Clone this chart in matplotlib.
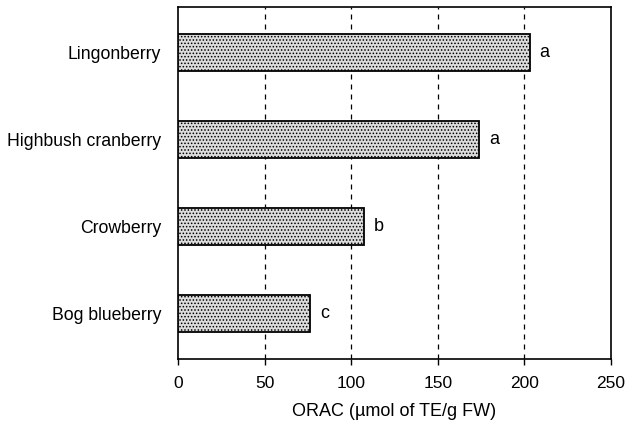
import matplotlib
matplotlib.use("Agg")
import matplotlib.pyplot as plt

categories = ["Lingonberry", "Highbush cranberry", "Crowberry", "Bog blueberry"]
orac = [203, 174, 107.5, 76.5]
letters = ["a", "a", "b", "c"]
xticks = [0, 50, 100, 150, 200, 250]

plt.rcParams['font.family'] = ['Liberation Sans', 'DejaVu Sans']
plt.rcParams['hatch.linewidth'] = 0.7
plt.rcParams['hatch.color'] = '#8f8f8f'

fig = plt.figure(figsize=(6.27, 4.25), dpi=100)
ax = fig.add_axes([178/627, 1-359/425, (611-178)/627, (359-7)/425])

ypos = list(range(len(categories)))
ax.barh(ypos, orac, height=0.425, color='#dcdcdc', edgecolor='black',
        linewidth=1.3, hatch='.....', zorder=3)
for y, v, l in zip(ypos, orac, letters):
    ax.text(v + 5.5, y, l, va='center', ha='left', fontsize=13, zorder=4)

for x in xticks[1:-1]:
    ax.axvline(x, color='black', linestyle=(0, (4, 4)), linewidth=0.9, zorder=1)

ax.set_xlim(0, 250)
ax.set_ylim(3.52, -0.52)
ax.set_yticks(ypos)
ax.set_yticklabels(categories, fontsize=12.7)
ax.set_xticks(xticks)
ax.set_xticklabels([str(t) for t in xticks], fontsize=12.5)
ax.tick_params(axis='y', length=0, pad=12)
ax.tick_params(axis='x', direction='out', length=4, width=1, pad=8)
ax.set_xlabel("ORAC (µmol of TE/g FW)", fontsize=13, labelpad=9)
for s in ax.spines.values():
    s.set_linewidth(1.2)

fig.savefig("out.png", dpi=100)
